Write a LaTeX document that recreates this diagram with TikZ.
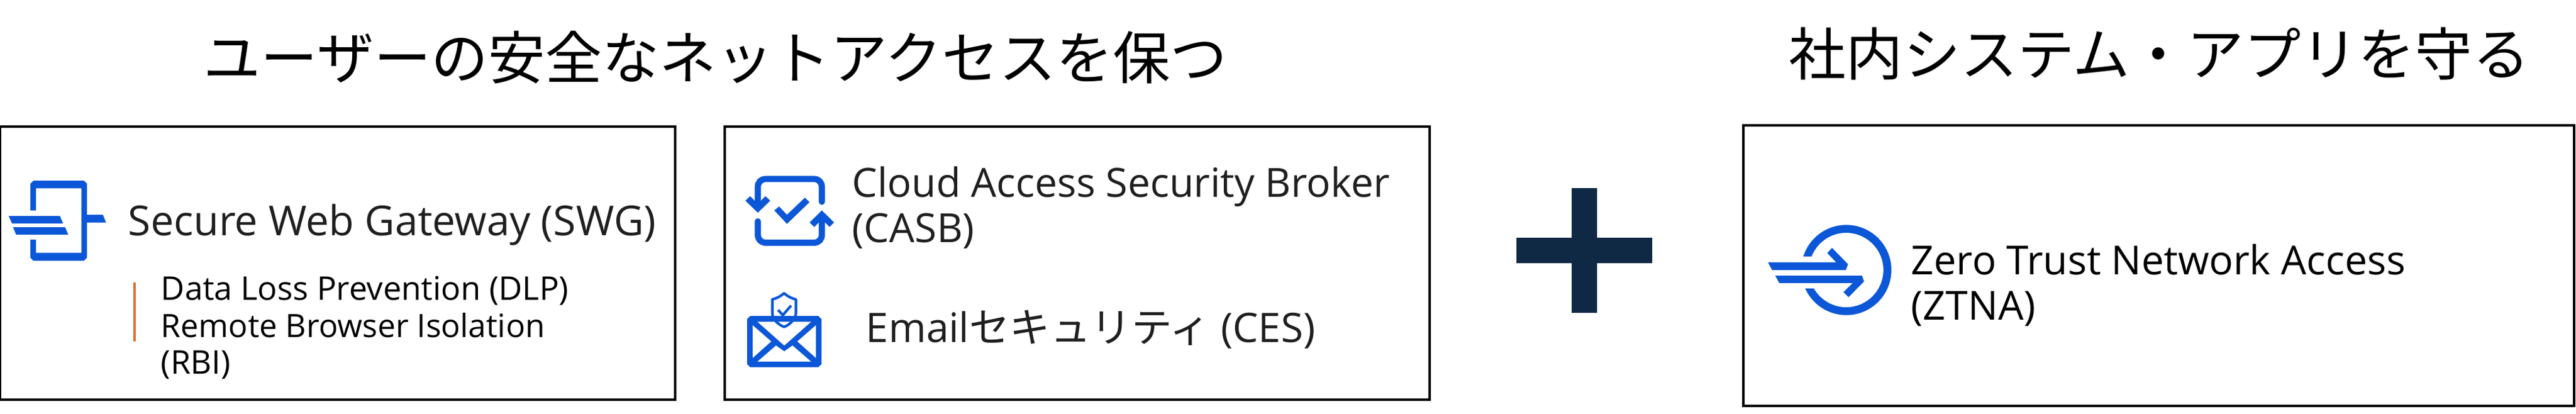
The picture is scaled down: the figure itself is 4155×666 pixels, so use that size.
\documentclass[tikz,border=0pt]{standalone}
\usepackage{fontspec}
\setmainfont{Open Sans}
\newfontfamily\jpfont{Noto Sans CJK JP}
\definecolor{iconblue}{HTML}{0B57D8}
\definecolor{navy}{HTML}{0F2844}
\definecolor{linegold}{HTML}{DC6F2C}
\definecolor{inkdark}{HTML}{1F1F1F}
\newcommand{\fsz}[1]{\fontsize{#1}{#1}\selectfont}
\tikzset{
  x=0.24pt,y=-0.24pt,
  panel/.style={draw=black,line width=0.9pt},
  titletext/.style={anchor=base west,inner sep=0pt,text=black,font=\jpfont\fsz{22.1}},
  bodytext/.style={anchor=base west,inner sep=0pt,text=inkdark,font=\fsz{15.6}},
  smalltext/.style={anchor=base west,inner sep=0pt,text=black,font=\fsz{12.6}},
  iconline/.style={draw=iconblue,line cap=round,line join=round,fill=none},
  zoomunits/.style={x=0.08pt,y=-0.08pt}
}
\begin{document}
\begin{tikzpicture}
\useasboundingbox (0,0) rectangle (4155,666);
% panels
\path[panel] (0,204) rectangle (1089,644);
\path[panel] (1169,204) rectangle (2306,644);
\path[panel] (2812,202) rectangle (4152,654);
% titles
\node[titletext] (t1) at (328,127) {ユーザーの安全なネットアクセスを保つ};
\node[titletext] (t2) at (2885,121) {社内システム・アプリを守る};
% plus
\fill[navy] (2446,383) rectangle (2665,424);
\fill[navy] (2535,303) rectangle (2576,504);
% SWG icon
\begin{scope}[shift={(0,260)},zoomunits]
  \fill[iconblue] (147,237) -- (147,108) -- (162,93) -- (406,93) -- (421,108) -- (421,258) -- (498,258) -- (513,296) -- (421,296) -- (421,465) -- (406,480) -- (162,480) -- (147,465) -- (147,378) -- (174,378) -- (174,442) -- (394,442) -- (394,130) -- (174,130) -- (174,237) -- cycle;
  \fill[iconblue] (42,264) -- (290,264) -- (305,300) -- (58,300) -- cycle;
  \fill[iconblue] (63,318) -- (315,318) -- (330,354) -- (78,354) -- cycle;
\end{scope}
\node[bodytext,font=\fsz{15.95}] (swg) at (206,379) {Secure Web Gateway (SWG)};
\draw[linegold,line width=0.75pt] (217,455) -- (217,550);
\node[smalltext] (dlp) at (259,483) {Data Loss Prevention (DLP)};
\node[smalltext,font=\fsz{12.4}] (rbi) at (259,543) {Remote Browser Isolation};
\node[smalltext] (rbib) at (259,602) {(RBI)};
% CASB icon
\begin{scope}[shift={(1180,260)},zoomunits]
  \draw[iconline,line width=2.4pt] (127,220) -- (127,125) .. controls (127,100) and (142,85) .. (167,85) -- (397,85) .. controls (422,85) and (437,100) .. (437,125) -- (437,195);
  \draw[iconline,line width=2.4pt] (127,290) -- (127,353) .. controls (127,378) and (142,393) .. (167,393) -- (397,393) .. controls (422,393) and (437,378) .. (437,353) -- (437,270);
  \fill[iconblue] (67,190) -- (90,168) -- (127,205) -- (164,168) -- (187,190) -- (127,248) -- cycle;
  \fill[iconblue] (378,295) -- (437,237) -- (496,295) -- (474,317) -- (437,280) -- (400,317) -- cycle;
  \fill[iconblue] (207,237) -- (230,218) -- (268,258) -- (355,175) -- (377,197) -- (268,302) -- cycle;
\end{scope}
\node[bodytext,font=\fsz{15.5}] (casb) at (1374,317) {Cloud Access Security Broker};
\node[bodytext,font=\fsz{15.5}] (casbb) at (1374,390) {(CASB)};
% Email icon
\begin{scope}[shift={(1180,460)},zoomunits]
  \fill[iconblue] (90,147) -- (420,147) -- (435,162) -- (435,380) -- (420,395) -- (90,395) -- (75,380) -- (75,162) -- cycle;
  \fill[white] (125,175) -- (385,175) -- (255,290) -- cycle;
  \fill[white] (102,192) -- (192,270) -- (102,350) -- cycle;
  \fill[white] (408,192) -- (318,270) -- (408,350) -- cycle;
  \fill[white] (125,368) -- (215,290) -- (255,318) -- (295,290) -- (385,368) -- cycle;
  \draw[iconline,line width=1pt] (254,37) .. controls (270,52) and (290,62) .. (311,67) -- (311,135) .. controls (311,160) and (285,188) .. (254,200) .. controls (223,188) and (197,160) .. (197,135) -- (197,67) .. controls (218,62) and (238,52) .. (254,37) -- cycle;
  \draw[draw=iconblue,line width=1pt] (225,118) -- (248,143) -- (288,97);
\end{scope}
\node[bodytext,font=\fsz{15.7}] (ces) at (1396,551) {Email{\jpfont セキュリティ} (CES)};
% ZTNA icon
\begin{scope}[shift={(2830,340)},zoomunits]
  \fill[iconblue] (236,220) arc[start angle=197.35,end angle=515.9,radius=218] -- (287,374) arc[start angle=510.4,end angle=201.17,radius=180] -- cycle;
  \fill[iconblue] (65,248) -- (395,248) -- (352,203) -- (375,178) -- (452,257) -- (442,285) -- (85,285) -- cycle;
  \fill[iconblue] (100,312) -- (520,312) -- (530,340) -- (455,416) -- (430,392) -- (475,348) -- (120,348) -- cycle;
\end{scope}
\node[bodytext,text=black,font=\fsz{15.5}] (ztna) at (3082,442) {Zero Trust Network Access};
\node[bodytext,text=black,font=\fsz{15.5}] (ztnab) at (3082,515) {(ZTNA)};
\end{tikzpicture}
\end{document}
